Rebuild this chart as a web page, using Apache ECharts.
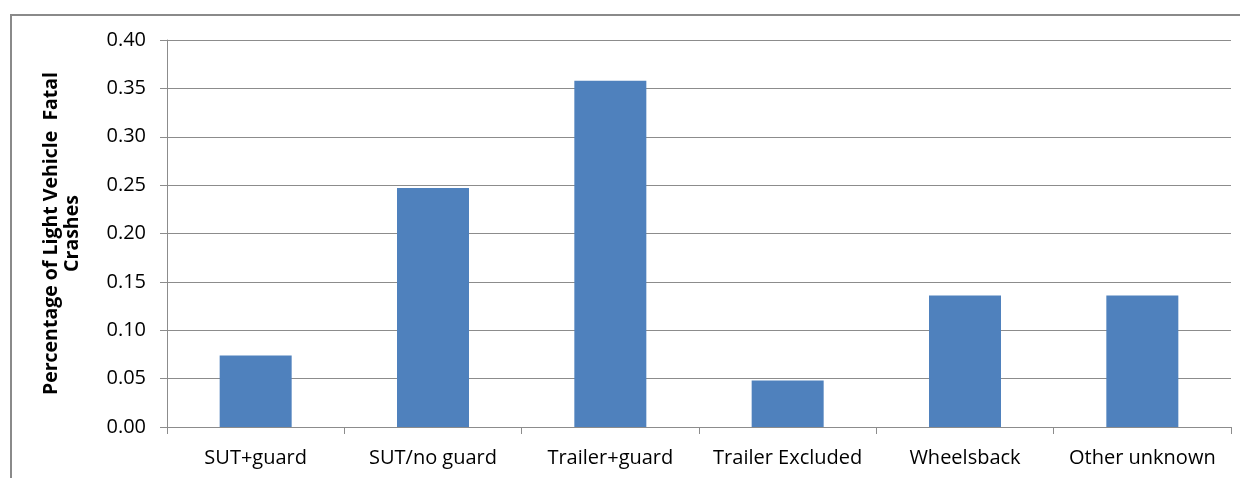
<!DOCTYPE html>
<html>
<head>
<meta charset="utf-8">
<script src="https://cdn.jsdelivr.net/npm/echarts@6/dist/echarts.min.js"></script>
<style>
  html, body { margin: 0; padding: 0; background: #fff; }
  #chart { width: 1240px; height: 478px; }
</style>
</head>
<body>
<div id="chart"></div>
<script>
const categories = ['SUT+guard', 'SUT/no guard', 'Trailer+guard', 'Trailer Excluded', 'Wheelsback', 'Other unknown']
const shares = [0.074, 0.247, 0.358, 0.048, 0.136, 0.136]
const yTicks = { min: 0, max: 0.4, interval: 0.05 }

const font = '"Open Sans", sans-serif'

const chart = echarts.init(document.getElementById('chart'))

chart.setOption({
  backgroundColor: '#ffffff',
  animation: false,
  graphic: [
    {
      type: 'rect',
      shape: { x: 11, y: 15, width: 1300, height: 500 },
      style: { fill: 'none', stroke: '#8a8a8a', lineWidth: 2 },
      silent: true
    }
  ],
  grid: {
    left: 167,
    right: 9,
    top: 40,
    bottom: 51
  },
  xAxis: {
    type: 'category',
    data: categories,
    axisLine: { lineStyle: { color: '#8c8c8c', width: 1 } },
    axisTick: { show: true, interval: 0, length: 7, lineStyle: { color: '#8c8c8c' } },
    axisLabel: {
      color: '#000',
      fontSize: 20,
      fontFamily: font,
      margin: 21,
      interval: 0
    }
  },
  yAxis: {
    type: 'value',
    min: yTicks.min,
    max: yTicks.max,
    interval: yTicks.interval,
    name: 'Percentage of Light Vehicle  Fatal\nCrashes',
    nameLocation: 'middle',
    nameRotate: 90,
    nameGap: 84,
    nameTextStyle: {
      color: '#000',
      fontSize: 19.5,
      fontWeight: 'bold',
      fontFamily: font,
      lineHeight: 21
    },
    axisLine: { show: true, lineStyle: { color: '#8c8c8c', width: 1 } },
    axisTick: { show: true, length: 7, lineStyle: { color: '#8c8c8c' } },
    axisLabel: {
      color: '#000',
      fontSize: 20,
      fontFamily: font,
      margin: 21,
      formatter: v => v.toFixed(2)
    },
    splitLine: {
      show: true,
      lineStyle: { color: '#8c8c8c', width: 1 }
    }
  },
  series: [
    {
      type: 'bar',
      data: shares,
      barWidth: 72,
      itemStyle: { color: '#4f81bd' }
    }
  ]
})
</script>
</body>
</html>
